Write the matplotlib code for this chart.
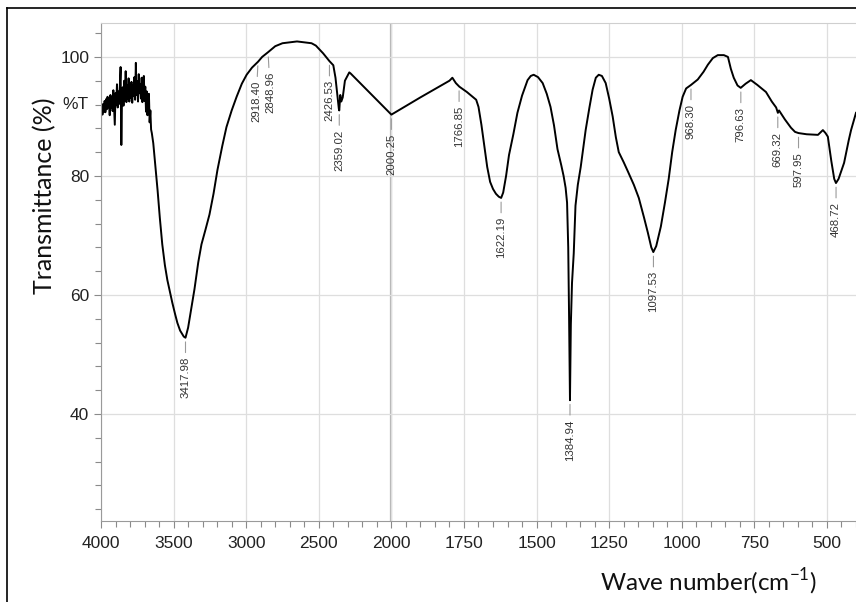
import numpy as np
import matplotlib
matplotlib.use('Agg')
import matplotlib.pyplot as plt
from matplotlib.lines import Line2D
from matplotlib.ticker import FixedLocator, NullFormatter

# noisy start of the spectrum, 4000 -> 3650 every 5 cm-1
noise_wn = list(range(4000, 3645, -5))
noise_T = [90.8, 91.9, 90.3, 92.1, 90.8, 92.6, 90.7, 92.9, 91.2, 93.3,
           91.5, 92.8, 90.2, 93.6, 91.4, 93.2, 90.9, 94.4, 91.7, 88.6,
           93.9, 92.0, 95.4, 91.5, 94.2, 92.1, 95.1, 98.3, 85.2, 93.4,
           94.9, 91.8, 96.0, 92.6, 97.6, 92.4, 95.3, 92.9, 96.4, 92.5,
           94.8, 93.1, 95.8, 92.3, 95.2, 93.4, 96.6, 92.8, 99.0, 93.6,
           95.9, 92.5, 97.1, 93.9, 95.4, 93.0, 96.5, 92.4, 95.7, 96.8,
           92.6, 95.0, 90.8, 94.2, 90.2, 92.8, 93.8, 89.0, 91.0, 87.8,
           87.2]

# rest of the trace
main_wn = [3640, 3625, 3610, 3595, 3578, 3560, 3543, 3525, 3509, 3490,
           3474, 3455, 3440, 3430, 3418, 3400, 3380, 3356, 3330, 3308,
           3280, 3253, 3225, 3198, 3165, 3136, 3100, 3066, 3030, 2997,
           2960, 2918, 2890, 2849, 2800, 2750, 2650, 2550, 2520, 2470,
           2440, 2427, 2400, 2385, 2370, 2362, 2359, 2352, 2345, 2335,
           2320, 2290, 2280, 2150, 2000, 1900, 1850, 1800, 1790, 1778,
           1766, 1740, 1708, 1700, 1690, 1680, 1670, 1660, 1650, 1640,
           1630, 1622, 1615, 1605, 1595, 1580, 1566, 1550, 1531, 1520,
           1510, 1495, 1479, 1465, 1452, 1440, 1428, 1415, 1407, 1400,
           1395, 1391, 1388, 1385, 1382, 1378, 1372, 1366, 1358, 1348,
           1331, 1318, 1307, 1296, 1286, 1275, 1262, 1250, 1238, 1227,
           1217, 1200, 1186, 1165, 1148, 1130, 1117, 1105, 1098, 1088,
           1072, 1058, 1045, 1033, 1021, 1008, 997, 985, 968, 945,
           925, 910, 893, 876, 855, 841, 831, 821, 808, 797,
           780, 762, 740, 710, 690, 675, 669, 665, 645, 624,
           610, 598, 570, 531, 514, 505, 497, 485, 475, 469,
           460, 441, 425, 417, 400]
main_T = [85.5, 81.5, 77.5, 73.0, 68.5, 65.0, 62.5, 60.5, 58.7, 56.8,
          55.3, 54.0, 53.4, 53.0, 52.8, 54.5, 57.5, 61.0, 65.5, 68.5,
          71.0, 73.5, 77.0, 81.0, 85.0, 88.2, 91.0, 93.3, 95.5, 97.0,
          98.2, 99.2, 100.0, 100.8, 101.8, 102.3, 102.6, 102.3, 101.9, 100.6,
          99.7, 99.3, 98.6, 96.5, 93.0, 91.3, 91.0, 93.6, 92.5, 93.2,
          96.0, 97.4, 97.2, 94.0, 90.3, 93.2, 94.6, 96.0, 96.5, 95.6,
          95.0, 94.1, 92.8, 91.6, 88.6, 85.0, 81.5, 79.0, 77.8, 77.0,
          76.5, 76.3, 77.2, 80.0, 83.5, 87.0, 90.6, 93.5, 96.1, 96.8,
          97.0, 96.6, 95.6, 93.8, 91.6, 88.5, 84.5, 81.8, 80.0, 78.0,
          75.5, 68.0, 56.0, 42.3, 55.0, 62.0, 67.0, 75.0, 78.5, 81.5,
          87.7, 91.5, 94.5, 96.5, 97.0, 96.8, 95.6, 93.0, 90.0, 86.5,
          84.0, 82.3, 80.8, 78.5, 76.3, 73.0, 70.5, 68.0, 67.2, 68.2,
          71.5, 75.5, 79.5, 84.0, 87.7, 91.0, 93.3, 94.7, 95.3, 96.2,
          97.5, 98.7, 99.8, 100.3, 100.3, 100.0, 98.0, 96.5, 95.2, 94.8,
          95.5, 96.1, 95.3, 94.1, 92.5, 91.5, 90.6, 91.0, 89.5, 88.1,
          87.4, 87.2, 87.0, 86.9, 87.7, 87.2, 86.6, 82.5, 79.5, 78.8,
          79.5, 82.2, 86.0, 87.7, 90.6]

peak_wn = [3417.98, 2918.40, 2848.96, 2426.53, 2359.02, 2000.25, 1766.85,
           1622.19, 1384.94, 1097.53, 968.30, 796.63, 669.32, 597.95, 468.72]
peak_T = [52.8, 99.2, 100.7, 99.3, 91.0, 90.3, 95.0,
          76.3, 42.3, 67.2, 95.3, 94.8, 90.6, 87.2, 78.8]

xticks = [4000, 3500, 3000, 2500, 2000, 1750, 1500, 1250, 1000, 750, 500]
xminor = [3900, 3800, 3700, 3600, 3400, 3300, 3200, 3100, 2900, 2800, 2700,
          2600, 2400, 2300, 2200, 2100, 1950, 1900, 1850, 1800, 1700, 1650,
          1600, 1550, 1450, 1400, 1350, 1300, 1200, 1150, 1100, 1050, 950,
          900, 850, 800, 700, 650, 600, 550, 450, 400]
yticks = [40, 60, 80, 100]
yminor = [24, 28, 32, 36, 44, 48, 52, 56, 64, 68, 72, 76, 84, 88, 92, 96, 104]

plt.rcParams['font.family'] = ['Liberation Sans', 'DejaVu Sans']
plt.rcParams['mathtext.fontset'] = 'custom'
plt.rcParams['mathtext.rm'] = 'Lato'


# wavenumbers above 2000 are drawn at half scale
def fwd(x):
    x = np.asarray(x, dtype=float)
    return np.where(x > 2000, 2000 + (x - 2000) / 2.0, x)


def inv(u):
    u = np.asarray(u, dtype=float)
    return np.where(u > 2000, 2000 + (u - 2000) * 2.0, u)


fig = plt.figure(figsize=(8.56, 6.02), dpi=100)
ax = fig.add_axes([101 / 856, 1 - 521 / 602, 1 - 101 / 856, (521 - 23) / 602])

ax.set_xscale('function', functions=(fwd, inv))
ax.set_xlim(4000, 400)
ax.set_ylim(22, 105.7)

ax.plot(noise_wn + main_wn, noise_T + main_T, color='black', lw=1.4,
        solid_joinstyle='round')

ax.xaxis.set_major_locator(FixedLocator(xticks))
ax.xaxis.set_minor_locator(FixedLocator(xminor))
ax.xaxis.set_minor_formatter(NullFormatter())
ax.set_xticklabels([str(t) for t in xticks])
ax.yaxis.set_major_locator(FixedLocator(yticks))
ax.yaxis.set_minor_locator(FixedLocator(yminor))
ax.yaxis.set_minor_formatter(NullFormatter())

ax.grid(which='major', color='#dedede', lw=0.9)
ax.axvline(2000, color='#b4b4b4', lw=1.6, zorder=0.5)
ax.set_axisbelow(True)

ax.tick_params(which='both', direction='out', color='#8a8a8a', width=0.8,
               labelsize=12.5, labelcolor='#222222')
ax.tick_params(which='major', length=5)
ax.tick_params(which='minor', length=4)
ax.tick_params(axis='x', pad=6)

for side in ['left', 'bottom']:
    ax.spines[side].set_color('#9a9a9a')
ax.spines['top'].set_color('#cfcfcf')
ax.spines['right'].set_visible(False)

ax.text(-0.017, 92, '%T', transform=ax.get_yaxis_transform(),
        ha='right', va='center', fontsize=12.5, color='#222222')

# the two close C-H labels are pushed apart a little
nudge = {2918.40: -2, 2848.96: 2}
for wn, t in zip(peak_wn, peak_T):
    dx = nudge.get(wn, 0)
    ax.annotate(f'{wn:.2f}', xy=(wn, t), xytext=(dx, -19),
                textcoords='offset pixels', rotation=90, ha='center',
                va='top', fontsize=8.2, color='#333333',
                arrowprops=dict(arrowstyle='-', color='#9a9a9a', lw=0.8,
                                shrinkA=1, shrinkB=3))

fig.text(45 / 856, 1 - 196 / 602, 'Transmittance (%)', rotation=90,
         ha='center', va='center', fontsize=18, family='Lato', color='#111111')
fig.text(708 / 856, 1 - 582 / 602, 'Wave number(cm$^{-1}$)',
         ha='center', va='center', fontsize=17.5, family='Lato', color='#111111')

# outer frame of the original figure
fig.add_artist(Line2D([7 / 856, 1.0], [1 - 8 / 602, 1 - 8 / 602],
                      transform=fig.transFigure, color='black', lw=1.2))
fig.add_artist(Line2D([7 / 856, 7 / 856], [0, 1 - 8 / 602],
                      transform=fig.transFigure, color='black', lw=1.2))

fig.savefig('out.png', dpi=100)
